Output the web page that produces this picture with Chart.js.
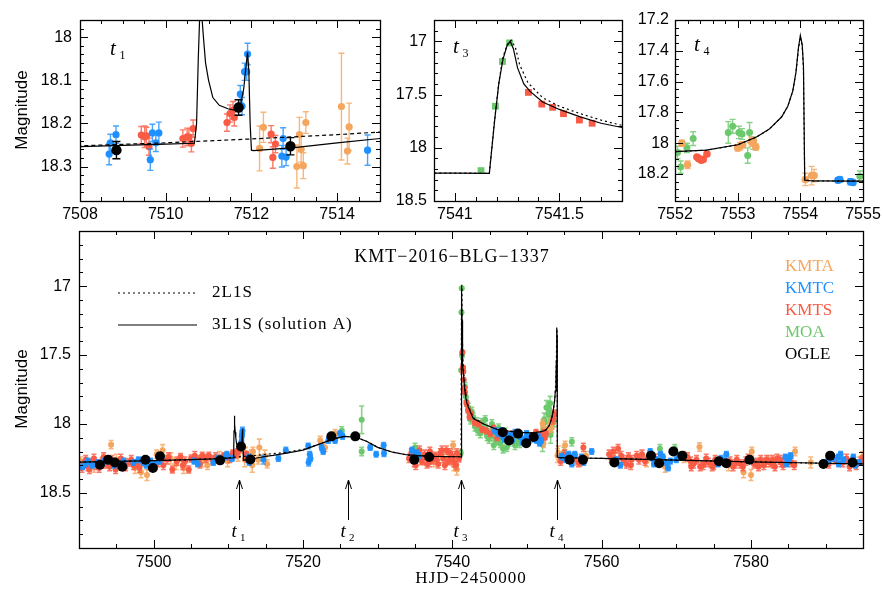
<!DOCTYPE html>
<html>
<head>
<meta charset="utf-8">
<script src="https://cdn.jsdelivr.net/npm/chart.js@4/dist/chart.umd.min.js"></script>
<style>
  body { margin: 0; background: #fff; }
  #wrap { position: relative; width: 883px; height: 594px; background: #fff; overflow: hidden; }
  #wrap canvas { position: absolute; }
</style>
</head>
<body>
<div id="wrap">
  <canvas id="p1" width="400" height="225" style="left:0;top:0"></canvas>
  <canvas id="p2" width="245" height="225" style="left:390px;top:0"></canvas>
  <canvas id="p3" width="253" height="225" style="left:630px;top:0"></canvas>
  <canvas id="pm" width="883" height="369" style="left:0;top:225px"></canvas>
</div>
<script>
// Colours per observatory
const COL = { KMTA: '#F5A65E', KMTC: '#1E90FF', KMTS: '#F95B45', MOA: '#6CC86C', OGLE: '#000000' };
const legendNames = ['KMTA', 'KMTC', 'KMTS', 'MOA', 'OGLE'];

// Model curves [HJD', mag]
const model3L = [
  [7490, 18.277], [7495, 18.272], [7500, 18.266], [7505, 18.259], [7508, 18.254], [7509, 18.251], [7510, 18.248],
  [7510.67, 18.246], [7510.72, 18.20], [7510.76, 18.05], [7510.79, 17.96], [7510.82, 17.94], [7510.85, 17.96],
  [7510.88, 18.00], [7510.93, 18.06], [7511.0, 18.10], [7511.1, 18.14], [7511.25, 18.158], [7511.45, 18.166],
  [7511.65, 18.17], [7511.75, 18.155], [7511.82, 18.12], [7511.87, 18.07], [7511.91, 18.035], [7511.94, 18.08],
  [7511.97, 18.20], [7512.0, 18.262], [7512.05, 18.263], [7513, 18.256], [7514, 18.245], [7515, 18.235],
  [7516, 18.228], [7518, 18.21], [7520, 18.19], [7522, 18.15], [7524, 18.11], [7525.5, 18.09], [7527, 18.095],
  [7528.5, 18.125], [7530, 18.17], [7532, 18.205], [7534, 18.225], [7537, 18.235], [7541.0, 18.238],
  [7541.165, 18.24], [7541.19, 17.75], [7541.21, 17.40], [7541.23, 17.17], [7541.25, 17.04], [7541.265, 17.0],
  [7541.28, 17.07], [7541.30, 17.25], [7541.33, 17.40], [7541.36, 17.47], [7541.42, 17.57], [7541.5, 17.64],
  [7541.6, 17.71], [7541.7, 17.77], [7541.8, 17.81], [7542.0, 17.86], [7542.8, 17.96], [7544.2, 18.0],
  [7546, 18.04], [7548.6, 18.06], [7550.8, 18.065], [7552.0, 18.055], [7552.5, 18.045], [7553.0, 18.01],
  [7553.3, 17.96], [7553.5, 17.91], [7553.7, 17.83], [7553.8, 17.76], [7553.88, 17.66], [7553.93, 17.54],
  [7553.97, 17.38], [7554.0, 17.30], [7554.03, 17.36], [7554.05, 17.50], [7554.07, 18.24], [7554.2, 18.245],
  [7557, 18.247], [7560, 18.25], [7570, 18.262], [7580, 18.275], [7590, 18.285], [7595, 18.29]
];
const model2L = [
  [7490, 18.277], [7500, 18.266], [7505, 18.259], [7508, 18.252], [7510, 18.245], [7512, 18.236], [7514, 18.226],
  [7515, 18.22], [7516.8, 18.212], [7518, 18.203], [7520, 18.185], [7522, 18.15], [7524, 18.11], [7525.5, 18.09],
  [7527, 18.095], [7528.5, 18.125], [7530, 18.17], [7532, 18.205], [7534, 18.225], [7537, 18.235], [7541.0, 18.238],
  [7541.165, 18.24], [7541.19, 17.74], [7541.21, 17.39], [7541.23, 17.15], [7541.25, 17.03], [7541.27, 16.99],
  [7541.29, 17.06], [7541.31, 17.22], [7541.35, 17.39], [7541.42, 17.53], [7541.5, 17.61], [7541.6, 17.68],
  [7541.7, 17.74], [7541.8, 17.79], [7542.0, 17.85], [7542.8, 17.955], [7544.2, 18.0], [7546, 18.04],
  [7548.6, 18.06], [7550.8, 18.065], [7552.0, 18.055], [7552.5, 18.045], [7553.0, 18.01], [7553.3, 17.96],
  [7553.5, 17.91], [7553.7, 17.83], [7553.8, 17.76], [7553.88, 17.66], [7553.93, 17.54], [7553.97, 17.39],
  [7554.0, 17.31], [7554.03, 17.37], [7554.05, 17.52], [7554.07, 18.24], [7554.2, 18.245], [7560, 18.25],
  [7570, 18.262], [7580, 18.275], [7590, 18.285], [7595, 18.29]
];

// Top-left inset (t1) data [HJD', mag, err]
const t1KMTA = [[7512.19, 18.258, .052], [7512.28, 18.209, .035], [7513.06, 18.30, .05], [7513.12, 18.226, .04],
  [7513.16, 18.26, .03], [7513.21, 18.298, .03], [7513.27, 18.198, .025], [7514.1, 18.161, .124],
  [7514.24, 18.264, .03], [7514.28, 18.208, .055]];
const t1KMTC = [[7508.68, 18.271, .025], [7508.71, 18.245, .02], [7508.84, 18.226, .02], [7509.64, 18.284, .025],
  [7509.69, 18.222, .02], [7509.77, 18.245, .02], [7509.84, 18.222, .025], [7511.74, 18.132, .02],
  [7511.78, 18.16, .02], [7511.84, 18.08, .02], [7511.89, 18.08, .02], [7511.91, 18.039, .025],
  [7512.74, 18.235, .025], [7512.71, 18.276, .025], [7512.81, 18.278, .02], [7514.71, 18.262, .035]];
const t1KMTS = [[7509.43, 18.227, .02], [7509.51, 18.231, .025], [7509.55, 18.229, .02], [7509.61, 18.254, .02],
  [7510.4, 18.235, .02], [7510.5, 18.231, .02], [7510.54, 18.232, .02], [7510.6, 18.246, .02], [7510.64, 18.212, .02],
  [7511.43, 18.198, .02], [7511.5, 18.177, .02], [7511.57, 18.169, .02], [7511.6, 18.186, .02],
  [7512.46, 18.225, .02], [7512.5, 18.279, .025], [7512.56, 18.248, .02]];
const t1OGLE = [[7508.85, 18.262, .02], [7511.7, 18.163, .018], [7512.91, 18.253, .02]];

// Top-middle inset (t3)
const t3MOA = [[7541.125, 18.215, .02], [7541.194, 17.61, .01], [7541.228, 17.19, .01], [7541.262, 17.015, .01]];
const t3KMTS = [[7541.352, 17.48, .008], [7541.416, 17.59, .008], [7541.468, 17.62, .008], [7541.52, 17.68, .008],
  [7541.596, 17.74, .008], [7541.657, 17.77, .008]];

// Top-right inset (t4)
const t4MOA = [[7552.04, 18.06, .04], [7552.09, 18.155, .04], [7552.19, 18.03, .03], [7552.29, 17.97, .045],
  [7552.85, 17.93, .07], [7552.92, 17.89, .045], [7553.02, 17.93, .04], [7553.07, 17.94, .035],
  [7553.16, 18.08, .05], [7553.19, 17.93, .065], [7553.25, 18.0, .04], [7554.95, 18.215, .035]];
const t4KMTA = [[7552.11, 18.0, .02], [7552.2, 18.14, .025], [7553.0, 18.03, .02], [7553.04, 18.02, .025],
  [7553.08, 18.01, .02], [7553.22, 17.99, .03], [7553.25, 17.985, .02], [7553.29, 18.025, .02],
  [7554.08, 18.235, .04], [7554.18, 18.21, .06], [7554.22, 18.21, .04]];
const t4KMTS = [[7552.35, 18.09, .012], [7552.38, 18.1, .012], [7552.42, 18.11, .012], [7552.45, 18.105, .012],
  [7552.51, 18.07, .012]];
const t4KMTC = [[7554.6, 18.24, .015], [7554.63, 18.235, .015], [7554.8, 18.25, .02], [7554.84, 18.255, .015]];

// Main panel
const mKMTS = [
  [7490.4, 18.32, .03], [7490.7, 18.29, .025], [7490.9, 18.26, .03], [7491.2, 18.31, .03], [7491.4, 18.33, .03],
  [7491.6, 18.28, .025], [7492.0, 18.25, .03], [7492.3, 18.30, .03], [7492.7, 18.32, .03], [7493.1, 18.27, .025],
  [7493.3, 18.24, .03], [7493.6, 18.29, .03], [7494.1, 18.31, .03], [7494.4, 18.26, .03], [7494.9, 18.33, .03],
  [7495.2, 18.28, .025], [7495.6, 18.25, .03], [7495.9, 18.30, .03], [7496.2, 18.31, .03], [7496.7, 18.28, .025],
  [7497.0, 18.26, .03], [7497.3, 18.30, .03], [7497.8, 18.29, .03], [7498.1, 18.32, .03], [7498.4, 18.27, .025],
  [7499.4, 18.30, .03], [7500.6, 18.28, .03], [7501.3, 18.30, .03], [7501.8, 18.26, .03], [7502.0, 18.24, .03],
  [7502.5, 18.33, .025], [7503.1, 18.27, .03], [7503.6, 18.24, .025], [7503.9, 18.30, .03], [7504.2, 18.27, .03],
  [7504.7, 18.33, .025], [7505.0, 18.25, .025], [7505.5, 18.23, .03], [7506.0, 18.26, .03], [7506.2, 18.29, .03],
  [7506.5, 18.23, .025], [7507.0, 18.25, .03], [7507.4, 18.23, .025], [7507.9, 18.26, .03], [7508.3, 18.24, .03],
  [7509.4, 18.23, .02], [7509.55, 18.23, .02], [7510.2, 18.25, .03], [7510.5, 18.23, .02], [7510.6, 18.21, .02],
  [7510.9, 18.22, .03], [7511.2, 18.21, .03], [7511.45, 18.19, .02], [7511.55, 18.17, .02],
  [7512.45, 18.22, .02], [7512.5, 18.25, .025],
  [7534.2, 18.25, .03], [7534.5, 18.21, .03], [7534.9, 18.28, .03], [7535.1, 18.30, .03], [7535.3, 18.24, .03],
  [7535.6, 18.19, .03], [7535.9, 18.27, .025], [7536.0, 18.25, .03], [7536.3, 18.22, .03], [7536.6, 18.29, .03],
  [7536.9, 18.28, .03], [7537.0, 18.20, .03], [7537.4, 18.26, .03], [7537.7, 18.23, .025], [7537.9, 18.26, .03],
  [7538.1, 18.29, .03], [7538.4, 18.21, .03], [7538.6, 18.19, .03], [7538.8, 18.25, .03], [7539.0, 18.30, .03],
  [7539.2, 18.19, .03], [7539.5, 18.27, .025], [7539.7, 18.21, .03], [7539.9, 18.23, .03], [7540.0, 18.26, .03],
  [7540.3, 18.28, .03], [7540.5, 18.30, .03], [7540.6, 18.21, .03], [7540.9, 18.25, .025],
  [7541.35, 17.48, .01], [7541.42, 17.59, .01], [7541.47, 17.62, .01], [7541.52, 17.68, .01], [7541.6, 17.74, .01],
  [7541.66, 17.77, .01], [7541.9, 17.85, .02], [7542.1, 17.9, .02], [7542.3, 17.95, .02], [7542.5, 17.93, .02],
  [7543.0, 17.99, .02], [7543.5, 18.0, .02], [7544.0, 18.04, .02], [7544.5, 18.05, .02],
  [7545.1, 18.07, .02], [7545.5, 18.03, .02], [7546.0, 18.1, .02], [7547.2, 18.09, .02], [7548.1, 18.07, .02],
  [7550.5, 18.1, .02], [7551.2, 18.06, .02], [7551.7, 18.08, .02], [7552.2, 18.06, .02], [7552.35, 18.09, .015],
  [7552.4, 18.1, .015], [7552.51, 18.07, .015], [7553.5, 17.97, .03], [7553.7, 17.93, .03],
  [7554.5, 18.27, .03], [7555.0, 18.22, .03], [7556.4, 18.24, .03], [7556.9, 18.28, .03], [7557.1, 18.28, .025],
  [7557.55, 18.17, .03], [7561.0, 18.22, .03], [7561.3, 18.25, .03], [7561.56, 18.20, .03], [7562.2, 18.18, .03],
  [7562.6, 18.23, .03], [7562.9, 18.26, .03], [7563.3, 18.29, .03], [7563.6, 18.24, .03], [7563.9, 18.30, .03],
  [7564.0, 18.26, .03], [7564.7, 18.23, .03], [7565.0, 18.26, .03], [7565.4, 18.22, .03], [7565.8, 18.27, .03],
  [7567.2, 18.25, .03], [7568.3, 18.27, .03], [7571.5, 18.24, .03], [7571.9, 18.27, .03], [7572.0, 18.31, .03],
  [7572.3, 18.29, .03], [7572.7, 18.26, .03], [7573.2, 18.31, .03], [7573.6, 18.30, .03], [7573.9, 18.28, .03],
  [7574.0, 18.25, .03], [7574.3, 18.28, .03], [7574.8, 18.31, .03], [7575.0, 18.30, .03], [7575.2, 18.26, .03],
  [7577.2, 18.27, .03], [7577.6, 18.31, .03], [7577.9, 18.29, .03], [7578.1, 18.26, .03], [7578.6, 18.29, .03],
  [7578.9, 18.31, .03], [7579.3, 18.27, .03], [7579.6, 18.25, .03], [7580.4, 18.29, .03], [7580.8, 18.28, .03],
  [7581.0, 18.31, .03], [7581.3, 18.26, .03], [7581.7, 18.30, .03], [7581.9, 18.28, .03], [7582.1, 18.26, .03],
  [7582.6, 18.28, .03], [7582.9, 18.26, .03], [7583.0, 18.29, .03], [7583.2, 18.31, .03], [7583.5, 18.25, .03],
  [7583.9, 18.26, .03], [7584.0, 18.28, .03], [7584.3, 18.30, .03], [7585.0, 18.26, .03], [7585.4, 18.28, .03],
  [7585.8, 18.30, .03], [7590.4, 18.29, .03], [7591.2, 18.26, .03], [7592.3, 18.28, .03], [7592.8, 18.25, .03],
  [7593.2, 18.31, .03], [7594.1, 18.30, .03], [7594.6, 18.27, .03], [7595.0, 18.26, .03]
];
const mKMTC = [
  [7490.5, 18.31, .02], [7490.9, 18.29, .02], [7491.2, 18.27, .02], [7491.8, 18.30, .02], [7492.5, 18.28, .02],
  [7493.0, 18.30, .02], [7493.4, 18.27, .02], [7494.0, 18.26, .02], [7494.7, 18.30, .02], [7495.5, 18.29, .02],
  [7496.0, 18.27, .02], [7497.3, 18.28, .02], [7497.95, 18.26, .02], [7498.6, 18.28, .02], [7499.0, 18.30, .02],
  [7499.6, 18.27, .02], [7500.2, 18.29, .02], [7500.8, 18.27, .02], [7505.4, 18.27, .02], [7505.9, 18.29, .02],
  [7508.0, 18.28, .02], [7508.5, 18.26, .02], [7508.7, 18.25, .02], [7509.64, 18.24, .02], [7509.8, 18.22, .02],
  [7510.5, 18.25, .02], [7511.75, 18.13, .02], [7511.8, 18.09, .02], [7511.85, 18.07, .02], [7511.9, 18.05, .025],
  [7512.75, 18.24, .02], [7512.8, 18.28, .02], [7512.9, 18.26, .02], [7514.7, 18.26, .03], [7516.7, 18.25, .02],
  [7517.7, 18.19, .02], [7520.7, 18.16, .02], [7520.75, 18.28, .025], [7520.9, 18.22, .02], [7521.0, 18.25, .02],
  [7522.5, 18.17, .02], [7522.7, 18.20, .02], [7523.4, 18.12, .02], [7523.8, 18.10, .02], [7524.3, 18.12, .02],
  [7524.96, 18.07, .02], [7525.3, 18.09, .02], [7529.0, 18.17, .02], [7529.8, 18.22, .02], [7530.8, 18.155, .02],
  [7530.85, 18.215, .02], [7534.6, 18.19, .02], [7534.7, 18.25, .02], [7535.2, 18.21, .02], [7535.5, 18.23, .02],
  [7545.7, 18.05, .02], [7546.2, 18.07, .02], [7546.5, 18.05, .02], [7546.8, 18.09, .02], [7547.0, 18.11, .02],
  [7547.5, 18.08, .02], [7547.95, 18.09, .02], [7548.0, 18.12, .02], [7548.4, 18.06, .02], [7549.1, 18.09, .02],
  [7549.4, 18.13, .02], [7549.7, 18.11, .02], [7549.96, 18.07, .02], [7550.0, 18.10, .02], [7550.4, 18.09, .02],
  [7550.8, 18.11, .02], [7551.3, 18.12, .02], [7551.5, 18.09, .02], [7551.7, 18.14, .02], [7551.9, 18.12, .02],
  [7554.61, 18.235, .02], [7554.84, 18.245, .02], [7555.2, 18.26, .02], [7555.6, 18.22, .02], [7555.9, 18.25, .02],
  [7556.0, 18.29, .02], [7556.4, 18.22, .02], [7557.3, 18.24, .02], [7557.6, 18.28, .02], [7558.66, 18.20, .02],
  [7562.0, 18.26, .02], [7562.5, 18.30, .02], [7566.5, 18.20, .02], [7566.9, 18.25, .02], [7567.0, 18.29, .02],
  [7567.4, 18.26, .02], [7567.9, 18.22, .02], [7568.2, 18.24, .02], [7568.7, 18.28, .02], [7568.9, 18.32, .02],
  [7569.2, 18.27, .02], [7570.0, 18.26, .02], [7570.3, 18.23, .02], [7575.6, 18.29, .02], [7576.0, 18.25, .02],
  [7576.4, 18.27, .02], [7576.7, 18.22, .02], [7584.6, 18.24, .02], [7584.8, 18.29, .02], [7585.1, 18.26, .02],
  [7585.3, 18.23, .02], [7590.3, 18.27, .02], [7590.9, 18.25, .02], [7591.7, 18.24, .02], [7591.75, 18.29, .02],
  [7592.0, 18.22, .02], [7592.4, 18.26, .02], [7593.7, 18.24, .02], [7594.0, 18.30, .02], [7594.4, 18.28, .02]
];
const mKMTA = [
  [7490.2, 18.27, .03], [7492.0, 18.31, .04], [7493.2, 18.28, .04], [7494.3, 18.15, .03], [7495.0, 18.26, .04],
  [7496.2, 18.29, .04], [7497.5, 18.32, .04], [7498.3, 18.35, .04], [7499.1, 18.37, .04], [7500.4, 18.22, .03],
  [7501.2, 18.19, .04], [7502.3, 18.25, .04], [7503.0, 18.29, .04], [7504.0, 18.32, .04], [7506.5, 18.27, .04],
  [7507.2, 18.30, .03], [7508.8, 18.24, .04], [7509.9, 18.27, .04], [7511.3, 18.23, .04], [7512.2, 18.26, .05],
  [7512.3, 18.21, .04], [7513.1, 18.23, .04], [7513.2, 18.30, .05], [7513.3, 18.20, .03], [7514.0, 18.26, .03],
  [7514.15, 18.17, .06], [7514.9, 18.23, .04], [7515.2, 18.29, .03], [7522.3, 18.12, .03], [7522.95, 18.17, .03],
  [7524.3, 18.07, .03], [7536.0, 18.25, .04], [7537.5, 18.27, .04], [7538.5, 18.22, .04], [7539.3, 18.25, .04],
  [7540.1, 18.155, .03], [7540.2, 18.30, .04], [7540.6, 18.33, .04],
  [7552.11, 18.0, .03], [7552.2, 18.14, .03], [7552.6, 18.05, .03], [7553.0, 18.03, .03], [7553.08, 18.02, .03],
  [7553.22, 17.99, .03], [7553.29, 18.03, .03], [7553.5, 17.97, .03], [7554.08, 18.23, .05], [7554.2, 18.21, .05],
  [7555.1, 18.155, .03], [7556.5, 18.26, .04], [7557.9, 18.23, .03], [7561.8, 18.25, .04], [7566.0, 18.27, .04],
  [7568.5, 18.31, .04], [7571.0, 18.24, .04], [7573.1, 18.167, .03], [7577.0, 18.30, .04], [7579.0, 18.35, .04],
  [7580.0, 18.37, .04], [7580.1, 18.20, .03], [7582.4, 18.27, .04], [7585.9, 18.20, .03], [7588.0, 18.28, .04],
  [7594.9, 18.24, .04]
];
const mMOA = [
  [7525.2, 18.05, .03], [7527.86, 17.97, .1], [7527.86, 18.20, .03], [7535.0, 18.17, .03],
  [7541.125, 18.21, .02], [7541.194, 17.61, .01], [7541.228, 17.19, .01], [7541.262, 17.015, .01], [7541.3, 17.50, .02],
  [7541.7, 17.73, .03], [7541.8, 17.80, .03], [7541.9, 17.84, .03], [7542.14, 17.88, .03], [7542.3, 17.92, .03],
  [7542.45, 17.97, .03], [7542.6, 17.91, .03], [7542.8, 17.95, .03], [7543.04, 18.02, .03], [7543.26, 17.985, .03],
  [7543.4, 18.05, .03], [7543.7, 18.02, .03], [7543.75, 18.07, .03], [7543.9, 17.99, .03], [7544.15, 18.02, .03],
  [7544.4, 17.97, .03], [7544.6, 18.045, .03], [7544.65, 18.09, .03], [7544.9, 18.11, .03], [7545.05, 18.07, .03],
  [7545.3, 18.0, .03], [7545.5, 18.09, .03], [7545.55, 18.155, .03], [7545.8, 18.06, .03], [7545.94, 18.12, .03],
  [7546.2, 18.03, .03], [7546.4, 18.14, .03], [7546.6, 18.10, .03], [7546.8, 18.18, .03], [7547.05, 18.06, .03],
  [7547.3, 18.17, .03], [7547.6, 18.13, .03], [7547.95, 18.09, .03], [7548.2, 18.10, .03], [7548.4, 18.155, .03],
  [7548.6, 18.12, .03], [7549.0, 18.14, .03],
  [7552.04, 18.06, .07], [7552.09, 18.15, .05], [7552.19, 18.03, .05], [7552.29, 17.97, .05], [7552.4, 17.99, .04],
  [7552.6, 17.88, .05], [7552.85, 17.93, .09], [7552.92, 17.89, .05], [7553.02, 17.93, .04], [7553.07, 17.94, .04],
  [7553.1, 17.85, .05], [7553.16, 18.08, .06], [7553.19, 17.93, .08], [7553.3, 18.02, .04], [7553.4, 17.95, .04],
  [7553.6, 17.98, .04], [7554.95, 18.21, .04],
  [7556.0, 18.13, .03], [7567.8, 18.18, .03], [7569.8, 18.18, .03]
];
const mOGLE = [
  [7492.8, 18.296, .02], [7493.9, 18.26, .02], [7494.8, 18.28, .02], [7495.8, 18.31, .02], [7498.9, 18.26, .02],
  [7499.9, 18.32, .02], [7500.85, 18.235, .02], [7508.9, 18.264, .02], [7511.7, 18.163, .02], [7512.95, 18.257, .02],
  [7523.8, 18.09, .02], [7527.0, 18.09, .02], [7534.9, 18.26, .02], [7536.9, 18.24, .02], [7546.75, 18.06, .02],
  [7547.6, 18.12, .02], [7548.8, 18.07, .02], [7549.9, 18.14, .02], [7550.9, 18.095, .02], [7555.7, 18.26, .02],
  [7557.5, 18.26, .02], [7561.7, 18.28, .02], [7566.6, 18.23, .02], [7567.7, 18.285, .02], [7569.6, 18.20, .02],
  [7570.8, 18.23, .02], [7575.7, 18.27, .02], [7576.7, 18.285, .02], [7579.8, 18.26, .02], [7589.7, 18.29, .02],
  [7590.6, 18.23, .02], [7593.6, 18.28, .02]
];

// Tick labels
const t1XLabels = [7508, 7510, 7512, 7514], t1YLabels = [18, 18.1, 18.2, 18.3];
const t3XLabels = [7541, 7541.5], t3YLabels = [17, 17.5, 18, 18.5];
const t4XLabels = [7552, 7553, 7554, 7555], t4YLabels = [17.2, 17.4, 17.6, 17.8, 18, 18.2];
const mXLabels = [7500, 7520, 7540, 7560, 7580], mYLabels = [17, 17.5, 18, 18.5];
// Event markers in the main panel
const arrowT = [7511.45, 7526.0, 7541.17, 7553.98], arrowSub = ['1', '2', '3', '4'];

const SANS = '"Liberation Sans", Arial, sans-serif';
const SERIF = '"Liberation Serif", "Times New Roman", serif';

// error bars, drawn just under each dataset's points
const errBars = {
  id: 'errBars',
  beforeDatasetDraw(chart, args) {
    const ds = chart.data.datasets[args.index];
    if (!ds.errs) return;
    const xs = chart.scales.x, ys = chart.scales.y, ctx = chart.ctx, a = chart.chartArea;
    const cap = ds.cap;
    ctx.save();
    ctx.beginPath(); ctx.rect(a.left, a.top, a.right - a.left, a.bottom - a.top); ctx.clip();
    ctx.strokeStyle = ds.errColor; ctx.lineWidth = ds.errWidth;
    ctx.beginPath();
    ds.data.forEach((p, i) => {
      const x = xs.getPixelForValue(p.x);
      const y1 = ys.getPixelForValue(p.y - ds.errs[i]), y2 = ys.getPixelForValue(p.y + ds.errs[i]);
      ctx.moveTo(x, y1); ctx.lineTo(x, y2);
      ctx.moveTo(x - cap, y1); ctx.lineTo(x + cap, y1);
      ctx.moveTo(x - cap, y2); ctx.lineTo(x + cap, y2);
    });
    ctx.stroke();
    ctx.restore();
  }
};

// box frame with inward ticks on all four sides
const frame = {
  id: 'frame',
  afterDraw(chart, args, o) {
    const ctx = chart.ctx, a = chart.chartArea, xs = chart.scales.x, ys = chart.scales.y;
    ctx.save();
    ctx.strokeStyle = '#000'; ctx.lineWidth = 1;
    ctx.beginPath();
    const each = (min, max, step, fn) => {
      for (let k = Math.ceil(min / step - 1e-6); k <= Math.floor(max / step + 1e-6); k++) fn(+(k * step).toFixed(6));
    };
    const isMajor = (v, step) => Math.abs(v / step - Math.round(v / step)) < 1e-6;
    each(xs.min, xs.max, o.xMinor, v => {
      const x = Math.round(xs.getPixelForValue(v)) + 0.5;
      const L = isMajor(v, o.xMajor) ? 8 : 4;
      ctx.moveTo(x, a.bottom); ctx.lineTo(x, a.bottom - L);
      ctx.moveTo(x, a.top); ctx.lineTo(x, a.top + L);
    });
    each(ys.min, ys.max, o.yMinor, v => {
      const y = Math.round(ys.getPixelForValue(v)) + 0.5;
      const L = isMajor(v, o.yMajor) ? 8 : 4;
      ctx.moveTo(a.left, y); ctx.lineTo(a.left + L, y);
      ctx.moveTo(a.right, y); ctx.lineTo(a.right - L, y);
    });
    ctx.stroke();
    ctx.lineWidth = 1.3;
    ctx.strokeRect(Math.round(a.left) + 0.5, Math.round(a.top) + 0.5, Math.round(a.right - a.left), Math.round(a.bottom - a.top));
    ctx.restore();
    if (o.extra) o.extra(chart, ctx);
  }
};

function axis(min, max, labels, size, pad, isY) {
  return {
    type: 'linear', min: min, max: max, reverse: isY,
    grid: { display: false, drawTicks: false }, border: { display: false },
    ticks: { font: { family: SANS, size: 16 }, color: '#000', padding: pad, autoSkip: false, maxRotation: 0,
      callback: v => String(v) },
    afterBuildTicks: s => { s.ticks = labels.map(v => ({ value: v })); },
    afterFit: s => {
      if (isY) s.width = size; else s.height = size;
      s.paddingLeft = s.paddingRight = s.paddingTop = s.paddingBottom = 0;
    }
  };
}

function pts(rows, color, r, style, cap, ew) {
  return {
    data: rows.map(d => ({ x: d[0], y: d[1] })), errs: rows.map(d => d[2]),
    errColor: color === '#000000' ? '#000' : color + 'D0', errWidth: ew || 1.4,
    pointRadius: r, pointBackgroundColor: color, pointBorderWidth: 0, pointStyle: style || 'circle',
    showLine: false, cap: cap || 2.5
  };
}
function line(rows, dash) {
  return {
    data: rows.map(d => ({ x: d[0], y: d[1] })), showLine: true, pointRadius: 0,
    borderColor: '#000', borderWidth: 1.2, borderDash: dash || [], tension: 0
  };
}

function italicT(ctx, x, y, sub, big, small) {
  ctx.fillStyle = '#000';
  ctx.textAlign = 'left'; ctx.textBaseline = 'alphabetic';
  ctx.font = 'italic ' + big + 'px ' + SERIF;
  ctx.fillText('t', x, y);
  ctx.font = small + 'px ' + SERIF;
  ctx.fillText(sub, x + big * 0.45, y + small * 0.35);
}

function makeChart(id, datasets, scales, pad, frameOpts) {
  return new Chart(document.getElementById(id), {
    type: 'scatter',
    data: { datasets: datasets },
    options: {
      responsive: false, animation: false, devicePixelRatio: 1,
      layout: { padding: pad },
      scales: scales,
      plugins: { legend: { display: false }, tooltip: { enabled: false }, frame: frameOpts }
    },
    plugins: [errBars, frame]
  });
}

// ---- top-left: t1 ----
makeChart('p1', [
  pts(t1OGLE, COL.OGLE, 5.2, 'circle', 4), line(model3L), line(model2L, [4, 3]),
  pts(t1KMTC, COL.KMTC, 3.6, 'circle', 3), pts(t1KMTS, COL.KMTS, 3.6, 'circle', 3), pts(t1KMTA, COL.KMTA, 3.6, 'circle', 3)
], {
  x: axis(7508, 7515, t1XLabels, 24, 4, false),
  y: axis(17.96, 18.38, t1YLabels, 80, 8, true)
}, { left: 0, top: 20, right: 20, bottom: 0 }, {
  xMajor: 2, xMinor: 0.5, yMajor: 0.1, yMinor: 0.02,
  extra: (c, ctx) => {
    ctx.save();
    ctx.translate(22, 110); ctx.rotate(-Math.PI / 2);
    ctx.font = '17px ' + SANS; ctx.fillStyle = '#000'; ctx.textAlign = 'center'; ctx.textBaseline = 'middle';
    ctx.fillText('Magnitude', 0, 0);
    ctx.restore();
    italicT(ctx, c.chartArea.left + 30, 55, '1', 21, 12);
  }
});

// ---- top-middle: t3 ----
makeChart('p2', [
  line(model3L), line(model2L, [2, 3]),
  pts(t3KMTS, COL.KMTS, 4.8, 'rect', 3), pts(t3MOA, COL.MOA, 4.8, 'rect', 3)
], {
  x: axis(7540.9, 7541.8, t3XLabels, 24, 4, false),
  y: axis(16.8, 18.5, t3YLabels, 44, 7, true)
}, { left: 0, top: 20, right: 13, bottom: 0 }, {
  xMajor: 0.5, xMinor: 0.1, yMajor: 0.5, yMinor: 0.1,
  extra: (c, ctx) => italicT(ctx, c.chartArea.left + 19, 53, '3', 21, 12)
});

// ---- top-right: t4 ----
makeChart('p3', [
  line(model3L), line(model2L, [2, 3]),
  pts(t4KMTC, COL.KMTC, 3.8, 'circle', 3), pts(t4KMTA, COL.KMTA, 3.8, 'circle', 3),
  pts(t4KMTS, COL.KMTS, 3.8, 'circle', 3), pts(t4MOA, COL.MOA, 3.5, 'circle', 3)
], {
  x: axis(7552, 7555, t4XLabels, 24, 4, false),
  y: axis(17.2, 18.375, t4YLabels, 45, 6, true)
}, { left: 0, top: 20, right: 20, bottom: 0 }, {
  xMajor: 1, xMinor: 0.2, yMajor: 0.2, yMinor: 0.05,
  extra: (c, ctx) => italicT(ctx, c.chartArea.left + 19, 51, '4', 21, 12)
});

// ---- main panel ----
makeChart('pm', [
  pts(mOGLE, COL.OGLE, 5, 'circle', 3), line(model3L), line(model2L, [2, 3]),
  pts(mKMTC, COL.KMTC, 3, 'circle', 2.5, 1.6), pts(mKMTS, COL.KMTS, 3, 'circle', 2.5, 1.6),
  pts(mKMTA, COL.KMTA, 3, 'circle', 2.5, 1.6), pts(mMOA, COL.MOA, 3, 'circle', 2.5, 1.6)
], {
  x: axis(7490, 7595, mXLabels, 46, 5, false),
  y: axis(16.6, 18.9, mYLabels, 79, 8, true)
}, { left: 0, top: 6, right: 20, bottom: 0 }, {
  xMajor: 20, xMinor: 5, yMajor: 0.5, yMinor: 0.1,
  extra: (c, ctx) => {
    const xs = c.scales.x, a = c.chartArea;
    ctx.save();
    ctx.fillStyle = '#000';
    // axis labels
    ctx.translate(22, 164); ctx.rotate(-Math.PI / 2);
    ctx.font = '17px ' + SANS; ctx.textAlign = 'center'; ctx.textBaseline = 'middle';
    ctx.fillText('Magnitude', 0, 0);
    ctx.setTransform(1, 0, 0, 1, 0, 0);
    ctx.font = '17px ' + SERIF; ctx.letterSpacing = '1px';
    ctx.fillText('HJD\u22122450000', 471, 354);
    // title
    ctx.font = '18px ' + SERIF; ctx.letterSpacing = '1px';
    ctx.fillText('KMT\u22122016\u2212BLG\u22121337', 452, 32);
    // model legend
    ctx.font = '17px ' + SERIF; ctx.letterSpacing = '1px'; ctx.textAlign = 'left';
    ctx.fillText('2L1S', 212, 68);
    ctx.fillText('3L1S (solution A)', 212, 100);
    ctx.letterSpacing = '0px';
    ctx.strokeStyle = '#000'; ctx.lineWidth = 1.2;
    ctx.setLineDash([2, 3]);
    ctx.beginPath(); ctx.moveTo(118, 68); ctx.lineTo(197, 68); ctx.stroke();
    ctx.setLineDash([]);
    ctx.beginPath(); ctx.moveTo(118, 100); ctx.lineTo(197, 100); ctx.stroke();
    // observatory legend
    ctx.font = '17px ' + SERIF;
    legendNames.forEach((n, i) => { ctx.fillStyle = COL[n]; ctx.fillText(n, 785, 42 + i * 22); });
    // arrows marking t1..t4
    ctx.strokeStyle = '#000'; ctx.lineWidth = 1;
    arrowT.forEach((t, i) => {
      const x = Math.round(xs.getPixelForValue(t)) + 0.5;
      const tip = a.bottom - 68, base = a.bottom - 28;
      ctx.beginPath();
      ctx.moveTo(x, base); ctx.lineTo(x, tip);
      ctx.moveTo(x - 3, tip + 9); ctx.lineTo(x, tip); ctx.lineTo(x + 3, tip + 9);
      ctx.stroke();
      italicT(ctx, x - 8, a.bottom - 11, arrowSub[i], 19, 11);
    });
    ctx.restore();
  }
});
</script>
</body>
</html>
